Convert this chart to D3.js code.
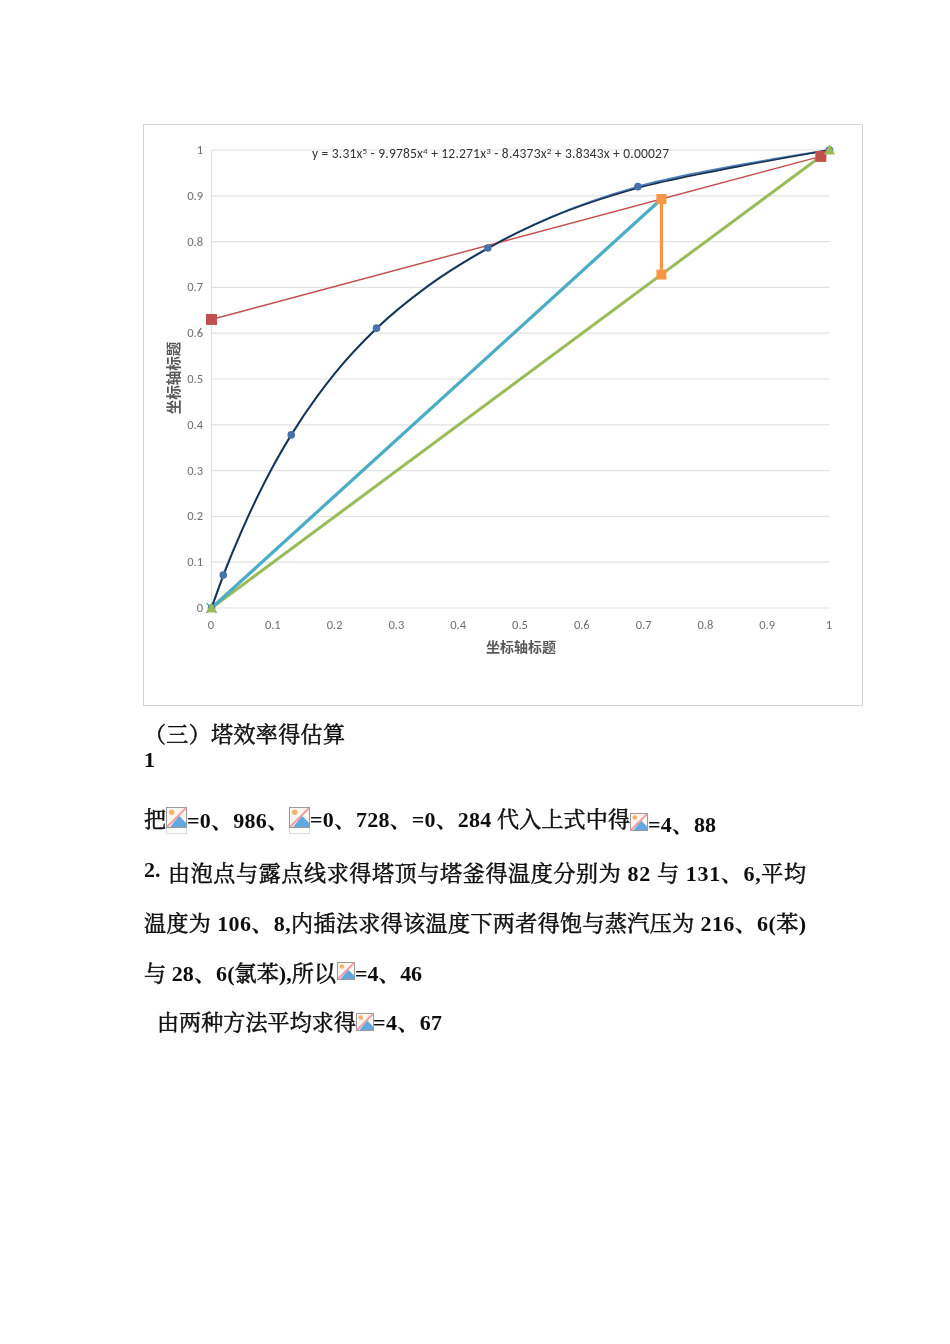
<!DOCTYPE html>
<html><head><meta charset="utf-8">
<script src="https://cdn.jsdelivr.net/npm/d3@7"></script>
<style>html,body{margin:0;padding:0;background:#fff}svg{display:block}</style>
</head><body><div id="c"></div>
<script>
const ticks=[0,0.1,0.2,0.3,0.4,0.5,0.6,0.7,0.8,0.9,1];
const tickLabels=["0","0.1","0.2","0.3","0.4","0.5","0.6","0.7","0.8","0.9","1"];
const eqX=[0,0.019,0.129,0.267,0.447,0.69,1];
const eqY=[0,0.072,0.378,0.611,0.786,0.92,1];
const blueX=[0,0.019,0.05,0.1,0.129,0.2,0.267,0.35,0.447,0.55,0.69,0.85,1];
const blueY=[0,0.072,0.172,0.31,0.378,0.513,0.611,0.703,0.786,0.854,0.92,0.966,1];
const trendX=[0,0.02,0.05,0.1,0.13,0.2,0.267,0.35,0.447,0.55,0.69,0.85,1];
const trendY=[0,0.0735,0.172,0.311,0.38,0.513,0.61,0.7025,0.785,0.853,0.917,0.963,1];
const opX=[0,0.986];
const opY=[0.63,0.986];
const diagX=[0,1];
const diagY=[0,1];
const rectX=[0,0.728];
const rectY=[0,0.893];
const stepX=[0.728,0.728];
const stepY=[0.893,0.728];
const equationParts=[["y = 3.31x",0],["5",1],[" - 9.9785x",0],["4",1],[" + 12.271x",0],["3",1],[" - 8.4373x",0],["2",1],[" + 3.8343x + 0.00027",0]];
const axisTitle="坐标轴标题";
const textRuns=[
 ["（三）塔效率得估算",144,742,201],
 ["1",144,767,null],
 ["把",144,827,null],
 ["=0、986、",187,828,102],
 ["=0、728、=0、284 代入上式中得",310,827,320],
 ["=4、88",648,832,68],
 ["2.",144,877,null],
 ["由泡点与露点线求得塔顶与塔釜得温度分别为 82 与 131、6,平均",168,881,638],
 ["温度为 106、8,内插法求得该温度下两者得饱与蒸汽压为 216、6(苯)",144,931,662],
 ["与 28、6(氯苯),所以",144,981,192],
 ["=4、46",355,981,67],
 ["由两种方法平均求得",157,1030,199],
 ["=4、67",373,1030,69]
];
const icons=[[166,807,21,27],[289,807,21,27],[630,813,18,18],[337,962,18,18],[356,1013,18,18]];

const svg=d3.select("#c").append("svg").attr("width",950).attr("height",1344);
svg.append("defs").append("filter").attr("id","soft").append("feGaussianBlur").attr("stdDeviation",0.45);
svg.append("rect").attr("x",143.5).attr("y",124.5).attr("width",719).attr("height",581).attr("fill","#fff").attr("stroke","#d4d4d4");
const x=d3.scaleLinear().domain([0,1]).range([211.5,829.5]);
const y=d3.scaleLinear().domain([0,1]).range([608,150]);
const g=svg.append("g").attr("filter","url(#soft)");
const sans="Carlito,'Open Sans','Noto Sans','Noto Sans CJK SC',sans-serif";
g.append("g").selectAll("line").data(ticks).join("line")
 .attr("x1",x(0)).attr("x2",x(1)).attr("y1",d=>y(d)).attr("y2",d=>y(d)).attr("stroke","#e2e2e2").attr("stroke-width",1.2);
g.append("line").attr("x1",x(0)).attr("x2",x(0)).attr("y1",y(1)).attr("y2",y(0)).attr("stroke","#e2e2e2").attr("stroke-width",1.2);
g.append("g").selectAll("text").data(ticks).join("text")
 .attr("x",203).attr("y",d=>y(d)+4).attr("text-anchor","end").attr("font-family",sans).attr("font-size",12.5).attr("fill","#6f6f6f")
 .text((d,i)=>tickLabels[i]);
g.append("g").selectAll("text").data(ticks).join("text")
 .attr("x",d=>x(d)-0.5).attr("y",629).attr("text-anchor","middle").attr("font-family",sans).attr("font-size",12.5).attr("fill","#6f6f6f")
 .text((d,i)=>tickLabels[i]);
const line=d3.line().x(d=>x(d[0])).y(d=>y(d[1]));
const smooth=d3.line().x(d=>x(d[0])).y(d=>y(d[1])).curve(d3.curveMonotoneX);
const zip=(a,b)=>a.map((v,i)=>[v,b[i]]);
// series
g.append("path").attr("d",smooth(zip(blueX,blueY))).attr("fill","none").attr("stroke","#4f81bd").attr("stroke-width",2);
g.append("path").attr("d",line(zip(diagX,diagY))).attr("fill","none").attr("stroke","#9bbb59").attr("stroke-width",3);
g.append("path").attr("d",line(zip(rectX,rectY))).attr("fill","none").attr("stroke","#4bacc6").attr("stroke-width",3.2);
g.append("path").attr("d",line(zip(opX,opY))).attr("fill","none").attr("stroke","#c0504d").attr("stroke-width",1.4);
g.append("path").attr("d",line(zip(stepX,stepY))).attr("fill","none").attr("stroke","#f79646").attr("stroke-width",3.2);
g.append("path").attr("d",smooth(zip(trendX,trendY))).attr("fill","none").attr("stroke","#17304f").attr("stroke-width",1.7);
// markers
g.append("g").selectAll("circle").data(zip(eqX,eqY)).join("circle")
 .attr("cx",d=>x(d[0])).attr("cy",d=>y(d[1])).attr("r",3.8).attr("fill","#4472a8");
const sq=(data,col,s)=>g.append("g").selectAll("rect").data(data).join("rect")
 .attr("x",d=>x(d[0])-s/2).attr("y",d=>y(d[1])-s/2).attr("width",s).attr("height",s).attr("fill",col);
sq(zip(opX,opY),"#c0504d",11);
sq(zip(stepX,stepY),"#f79646",10);
g.append("g").selectAll("path").data(zip(rectX,rectY).slice(0,1)).join("path")
 .attr("transform",d=>`translate(${x(d[0])},${y(d[1])})`).attr("d","M-5,-5L5,5M-5,5L5,-5").attr("stroke","#4bacc6").attr("stroke-width",1.3);
g.append("g").selectAll("path.tri").data(zip(diagX,diagY)).join("path")
 .attr("transform",d=>`translate(${x(d[0])},${y(d[1])})`).attr("d","M0,-5.5L5.5,4.5L-5.5,4.5Z").attr("fill","#9bbb59");
// equation
const eq=g.append("text").attr("x",312).attr("y",158).attr("font-family",sans).attr("font-size",13.5).attr("fill","#333").attr("textLength",357).attr("lengthAdjust","spacing");
eq.selectAll("tspan").data(equationParts).join("tspan")
 .attr("font-size",d=>d[1]?9:13.5).attr("dy",(d,i)=>d[1]?-4:(i?4:0)).text(d=>d[0]);
// axis titles
const cjkSans="'Noto Sans CJK SC',sans-serif";
g.append("text").attr("x",521).attr("y",652).attr("text-anchor","middle").attr("font-family",cjkSans).attr("font-size",14).attr("font-weight",700).attr("fill","#595959").text(axisTitle);
g.append("text").attr("transform","translate(179,378) rotate(-90)").attr("text-anchor","middle").attr("font-family",cjkSans).attr("font-size",14.5).attr("font-weight",700).attr("fill","#595959").text(axisTitle);
// document text: Latin runs are bold, CJK runs a lighter weight
const serif="'Liberation Serif','Noto Serif CJK SC','Noto Sans CJK SC',serif";
const t=svg.append("g").attr("filter","url(#soft)");
const isCjk=s=>/[\u4e00-\u9fff（）]/.test(s);
const splitRuns=s=>s.match(/[\u4e00-\u9fff（）]+|[^\u4e00-\u9fff（）]+/g);
t.selectAll("text").data(textRuns).join("text")
 .attr("x",d=>d[1]).attr("y",d=>d[2]).attr("font-family",serif).attr("font-size",22).attr("fill","#111")
 .each(function(d){
   const el=d3.select(this);
   if(d[3]) el.attr("textLength",d[3]).attr("lengthAdjust","spacing");
   el.selectAll("tspan").data(splitRuns(d[0])).join("tspan")
     .attr("font-weight",s=>isCjk(s)?400:700)
     .attr("stroke",s=>isCjk(s)?"#111":"none")
     .attr("stroke-width",s=>isCjk(s)?0.55:0)
     .text(s=>s);
 });
// broken-image placeholders
const ic=svg.append("g").attr("filter","url(#soft)").selectAll("g").data(icons).join("g").attr("transform",d=>`translate(${d[0]},${d[1]})`);
ic.filter(d=>d[3]>20).append("rect").attr("x",.5).attr("y",.5).attr("width",d=>d[2]-1).attr("height",d=>d[3]-1).attr("fill","#fff").attr("stroke","#ddd");
ic.append("rect").attr("x",.5).attr("y",.5).attr("width",d=>d[2]-1).attr("height",d=>d[2]-1).attr("fill","#fbf6ee").attr("stroke","#999");
ic.append("path").attr("d",d=>{const s=d[2];return `M${s*.2},${s-1}L${s*.62},${s*.42}L${s-1},${s*.75}L${s-1},${s-1}Z`}).attr("fill","#62a8de");
ic.append("circle").attr("cx",d=>d[2]*.27).attr("cy",d=>d[2]*.25).attr("r",d=>d[2]*.13).attr("fill","#f2b36a");
ic.append("line").attr("x1",1).attr("y1",d=>d[2]-1).attr("x2",d=>d[2]-1).attr("y2",1).attr("stroke","#f0a0a5").attr("stroke-width",2);
</script></body></html>
